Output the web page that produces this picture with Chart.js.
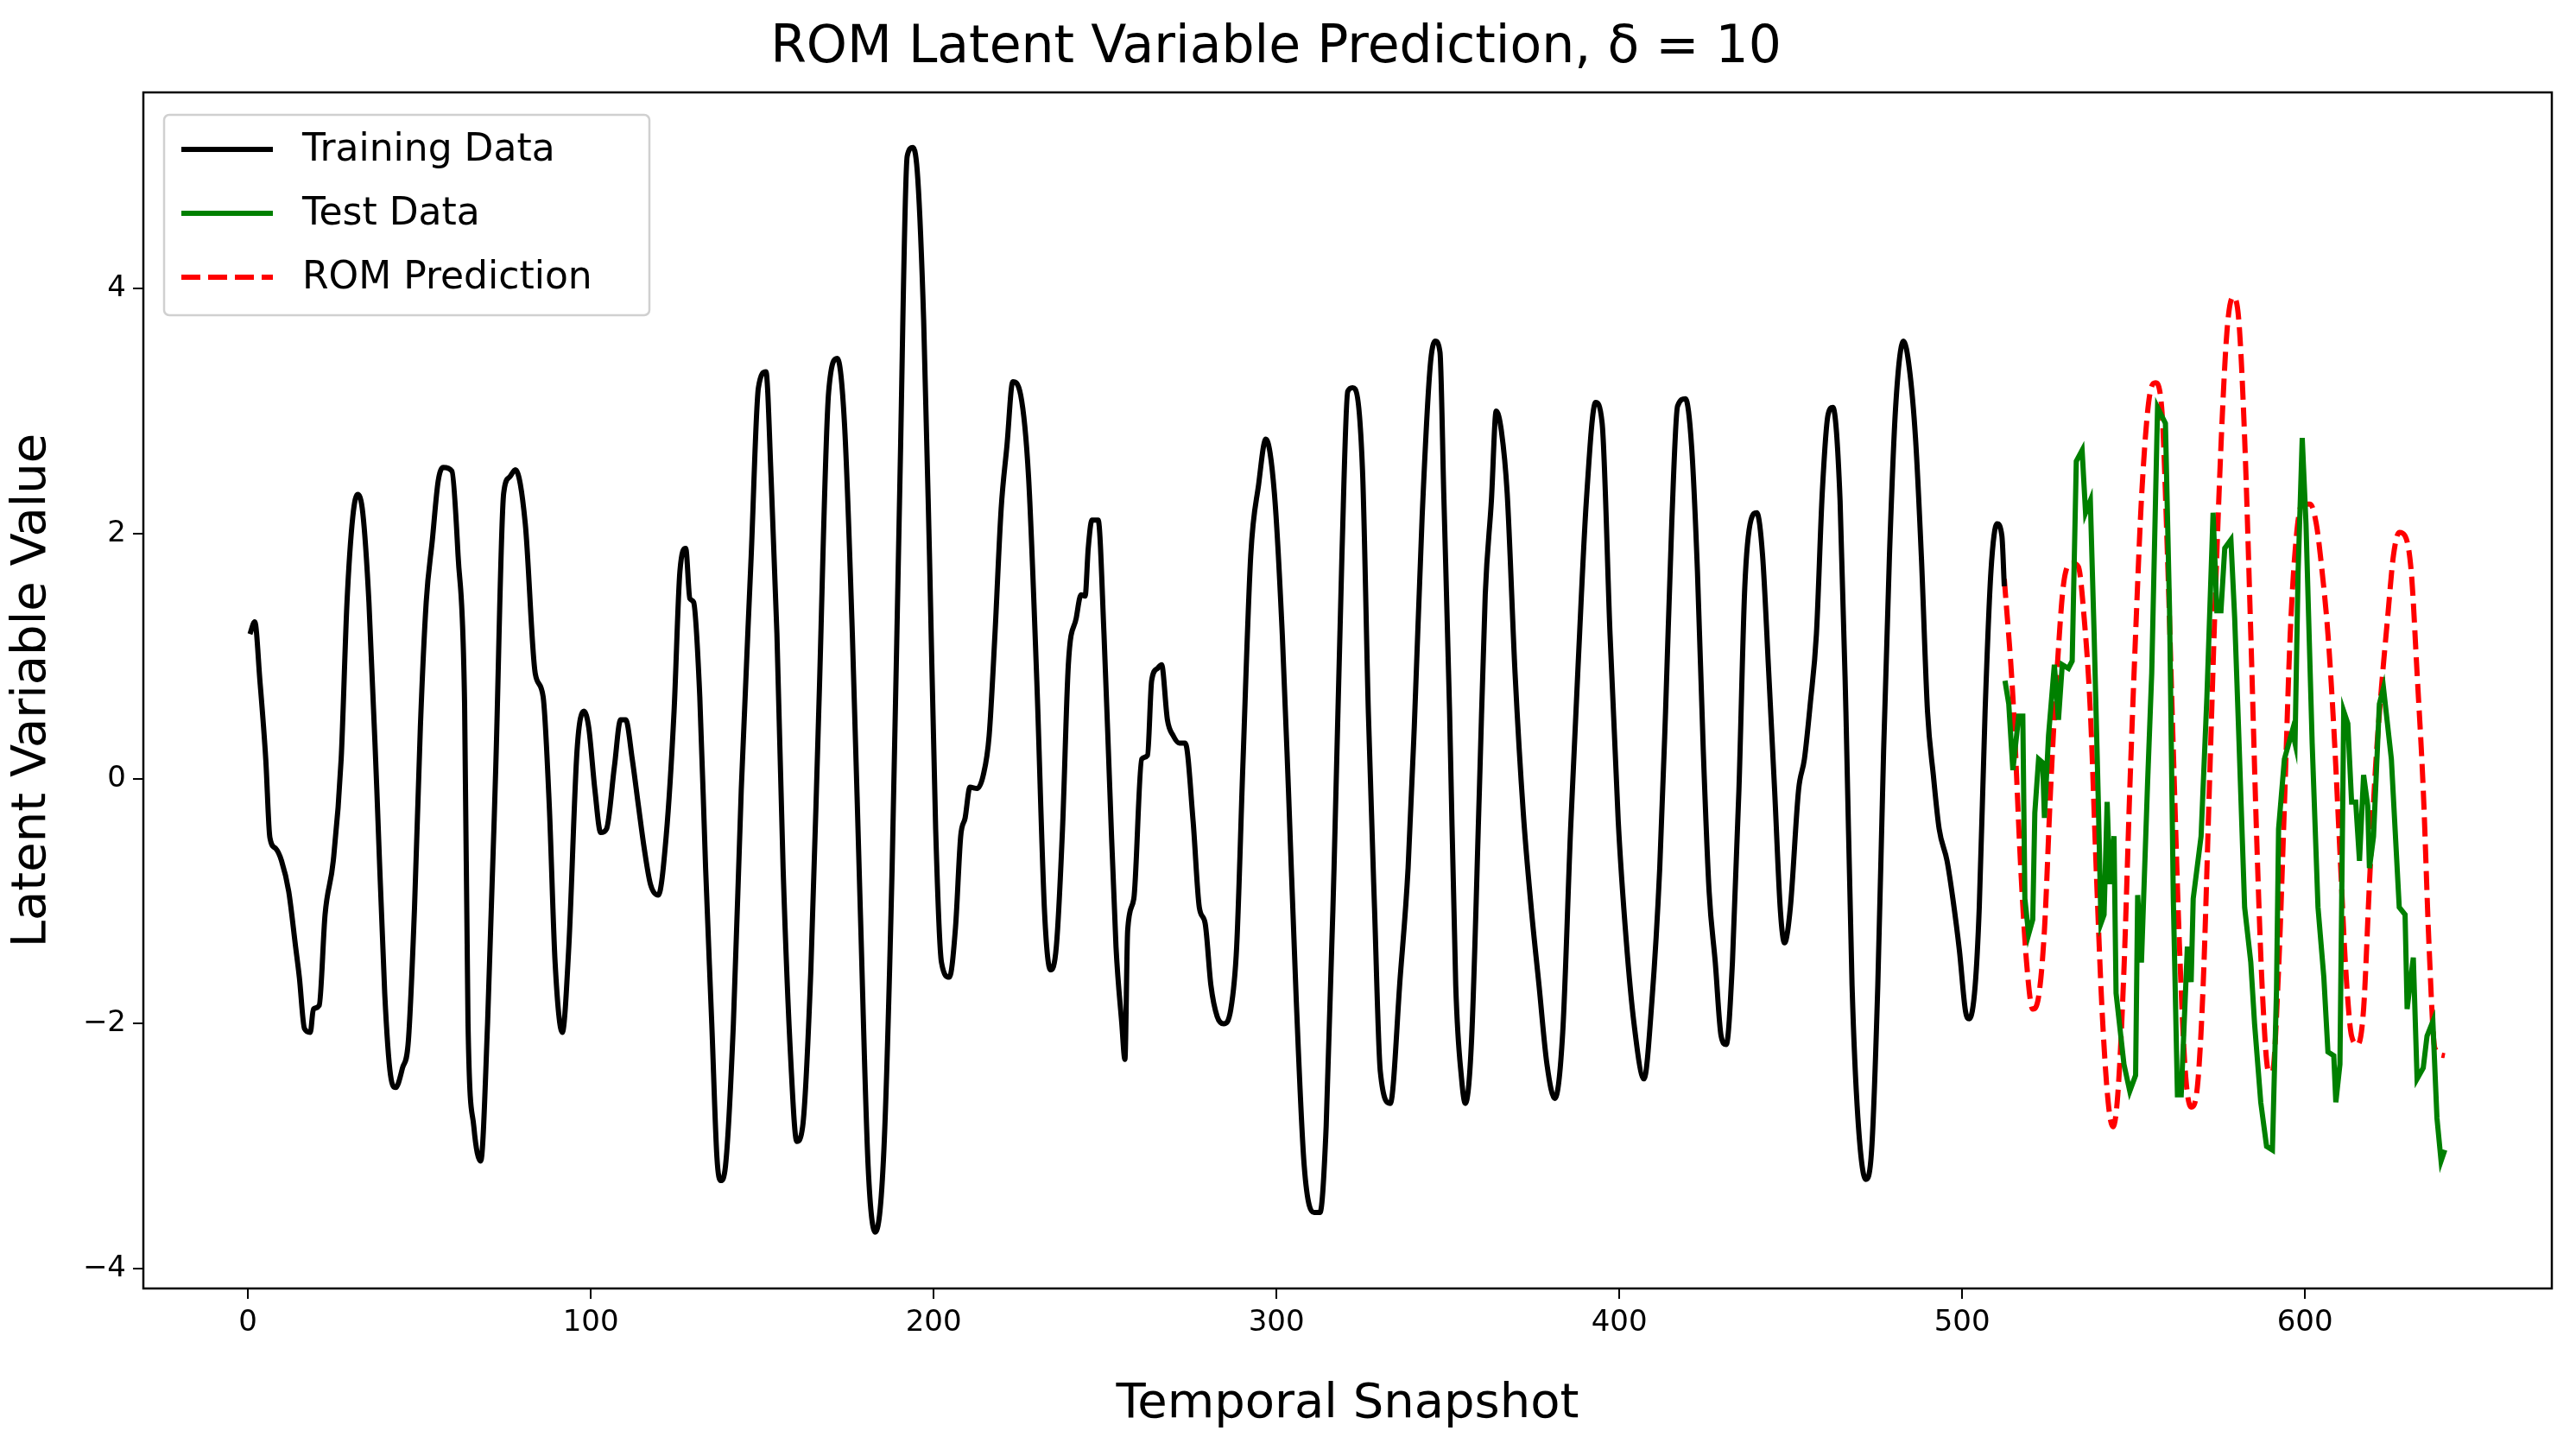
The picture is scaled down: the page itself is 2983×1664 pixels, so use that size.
<!DOCTYPE html>
<html>
<head>
<meta charset="utf-8">
<script src="https://cdn.jsdelivr.net/npm/chart.js@4"></script>
<style>
  html, body { margin: 0; padding: 0; background: #fff; }
</style>
</head>
<body>
<canvas id="romChart" width="2983" height="1664"></canvas>
<script>
// training data (black)
const trainX = [0.6,2,3.5,5.2,6.4,8.1,9.8,11.9,13.9,15,16.5,18.2,19.1,20.8,22.5,24.9,27.2,28.9,30.6,32,33.5,35.3,37.6,39.9,41.6,43.1,45.1,46.8,48.6,50.3,52,53.8,55.5,57,59.5,61.3,63.2,64.2,65.9,67.9,69.9,72.3,74.6,76.3,78,80.9,83.8,86.1,87.9,89.6,91.7,93.6,96,98,99.4,101.2,102.9,104.6,106.9,108.7,110.2,112.1,113.9,115.6,117.4,119.7,122,124.3,126,127.7,128.9,130,131.8,133.5,135.3,136.8,137.9,139.3,141.6,143.9,146.8,148.9,151.1,152.6,154.3,156.1,158.4,160.1,161.8,164.2,166.5,169.4,171.9,174,176.3,178.6,180.9,183,185.5,187.9,190.2,192.3,194,195.4,197.1,198.8,200.6,202.3,204.6,206.4,207.9,209.2,210.6,212.7,214.5,216.2,217.9,219.7,221.4,223.1,225.4,227.7,230.1,232.4,234.1,235.8,237.6,239.3,241.6,243,244.2,245.1,246.2,248,249.7,251.4,253.2,254.9,255.8,256.6,258.4,260.7,262.4,263.6,265.3,266.5,268.2,269.9,271.7,273.4,275.7,277.5,279.2,280.9,282.7,284.6,286.7,288.4,290.2,292.5,294.8,296.9,299.4,301.7,303.5,305.8,308.1,311,312.7,314.5,316.8,319.1,320.8,322.2,325.1,326.8,328.6,330.3,333.2,336.1,338.4,340.2,342.5,344.8,346.3,347.7,348.8,350.5,352.3,354,355.1,356.9,359.2,360.9,362.7,364.1,365.6,367.3,369.6,372,374.3,376.6,378.9,381.2,383.5,385.8,388.1,390.4,393.1,395,397.3,399.7,402,404.3,407.2,409.5,411.8,413.5,415.3,417,419.3,421.1,422.8,424.5,426.2,428,429.7,431.2,433,434.9,436.6,438.4,440.1,441.8,443.6,445.3,447,448.2,449.9,452.3,454,455.7,457.5,459.2,460.9,462.3,464.4,466.1,467.9,469.6,471.9,473.6,475.4,477.1,478.8,480.6,482.9,484.6,486.4,488.1,489.9,491.6,493.3,495.6,497.3,499.2,501,502.1,503.8,505,506.7,508.4,510.2,511.6,512.3];
const trainY = [1.18,1.28,0.8,0.16,-0.48,-0.57,-0.67,-0.92,-1.37,-1.62,-2.04,-2.07,-1.88,-1.85,-1.11,-0.67,0.16,1.44,2.14,2.32,2.17,1.44,-0.09,-1.75,-2.42,-2.52,-2.36,-2.14,-1.05,0.42,1.44,1.95,2.43,2.54,2.51,1.82,0.61,-2.0,-2.84,-3.12,-2.0,0.1,2.33,2.46,2.52,2.08,0.86,0.67,-0.22,-1.5,-2.07,-1.37,0.23,0.55,0.42,-0.09,-0.44,-0.41,0.1,0.48,0.48,0.16,-0.22,-0.57,-0.86,-0.95,-0.47,0.55,1.69,1.88,1.47,1.44,0.67,-0.73,-2.0,-3.09,-3.28,-3.16,-2.0,-0.09,1.82,3.19,3.32,2.46,1.18,-0.73,-2.33,-2.96,-2.84,-1.56,0.55,3.16,3.43,2.9,1.18,-1.05,-3.16,-3.7,-3.03,-0.73,2.46,5.08,5.15,4.89,3.74,1.82,-0.41,-1.5,-1.62,-1.21,-0.47,-0.32,-0.07,-0.08,0.03,0.35,1.18,2.2,2.72,3.24,3.13,2.46,0.8,-1.11,-1.56,-1.37,-0.41,0.93,1.31,1.5,1.49,1.88,2.11,2.11,1.18,-0.09,-1.37,-2.0,-2.29,-1.24,-0.98,0.16,0.19,0.8,0.9,0.93,0.48,0.35,0.29,0.29,-0.35,-1.05,-1.18,-1.69,-1.94,-2.0,-1.88,-1.37,0.1,1.82,2.4,2.77,2.33,1.18,-0.09,-1.82,-3.16,-3.54,-3.54,-2.84,-0.73,1.82,3.16,3.19,2.52,0.55,-1.05,-2.39,-2.65,-1.62,-0.73,0.42,2.14,3.35,3.57,3.48,2.33,0.55,-1.69,-2.45,-2.65,-2.14,-0.09,1.5,2.27,3.0,2.84,2.33,0.86,-0.28,-1.05,-1.69,-2.33,-2.61,-2.07,-0.41,0.99,2.27,3.07,2.9,1.18,-0.35,-1.31,-2.0,-2.45,-1.82,-0.73,0.55,2.08,3.04,3.1,2.71,1.69,0.23,-0.92,-1.5,-2.1,-2.17,-1.5,-0.09,1.56,2.11,2.17,1.82,0.86,-0.09,-1.08,-1.34,-1.05,-0.09,0.16,0.61,1.18,2.33,2.97,3.03,2.27,0.55,-1.69,-2.77,-3.27,-3.03,-1.69,0.23,1.82,3.03,3.57,3.35,2.78,1.82,0.55,0.03,-0.41,-0.67,-0.98,-1.4,-1.9,-1.96,-1.69,-1.05,0.55,1.69,2.08,1.98,1.57];

// test data (green)
const testX = [512.5,513.6,514.8,516.5,517.7,518.3,519.4,520.6,521.2,522.3,523.5,524,525.2,526.9,528.1,529.2,531,532.1,533.3,535,536,537.4,538.5,539.7,540.5,541.4,542.3,543.1,544.3,544.9,547.2,548.9,550.6,551.2,552.3,554.1,555.3,557,559.3,560.5,561.6,562.8,563.9,565.7,566.8,567.4,569.7,571.4,573.2,574.3,575.5,576.6,578.4,579.5,580.7,582.4,584.2,585.3,587.1,588.8,590.5,591.7,592.3,594,596.3,597.1,598,599.2,600.3,602.1,603.8,605.5,606.7,608.4,609,610.2,611.3,612.5,613.6,614.8,615.9,617.1,618.3,618.8,620,621.7,622.9,625.2,627.5,629.2,629.8,631.6,632.7,634.5,635.6,637.3,638.5,639.7,640.8];
const testY = [0.8,0.61,0.07,0.51,0.51,-0.98,-1.27,-1.15,-0.28,0.16,0.13,-0.32,0.35,0.93,0.48,0.93,0.9,0.96,2.59,2.68,2.17,2.27,1.18,-0.16,-1.18,-1.11,-0.19,-0.86,-0.47,-1.75,-2.33,-2.55,-2.42,-0.95,-1.5,-0.03,0.86,3.03,2.9,1.37,-0.98,-2.58,-2.58,-1.37,-1.66,-0.98,-0.47,0.67,2.17,1.37,1.37,1.88,1.95,1.31,0.35,-1.05,-1.5,-2.0,-2.64,-3.0,-3.03,-1.72,-0.41,0.16,0.39,0.29,1.69,2.78,2.08,0.29,-1.05,-1.62,-2.23,-2.26,-2.64,-2.33,0.55,0.45,-0.19,-0.19,-0.67,0.03,-0.22,-0.73,-0.47,0.61,0.74,0.16,-1.05,-1.11,-1.88,-1.46,-2.45,-2.36,-2.1,-1.98,-2.77,-3.12,-3.03];

// ROM prediction (red dashed)
const romX = [512.3,514.8,517.1,518.8,520.6,522.3,524,525.8,527.5,529.8,532.1,533.9,535.6,537.4,539.1,540.8,542.6,544,545.4,547.2,548.9,550.6,552.4,554.7,556.4,558.2,559.9,561.6,563.4,565.1,566.8,568.6,570.3,572.1,573.8,575.6,577.3,579,580.7,582.4,584.2,585.9,587.6,589.4,590.5,592.3,594,595.7,597.5,599.2,601.5,603.3,605,606.7,608.4,610.2,611.9,613.6,615.4,617.1,618.8,620.6,622.3,624.1,625.8,627.5,629.2,631,632.7,634.5,636.2,637.9,640.8];
const romY = [1.63,0.67,-0.73,-1.5,-1.88,-1.78,-1.24,-0.09,0.8,1.63,1.76,1.73,1.31,0.55,-0.73,-1.88,-2.64,-2.84,-2.58,-1.56,-0.09,1.18,2.33,3.13,3.23,3.03,1.82,0.23,-1.37,-2.39,-2.68,-2.52,-1.69,-0.09,1.44,2.78,3.67,3.93,3.74,2.78,1.18,-0.47,-1.75,-2.39,-2.39,-1.56,-0.22,1.18,1.98,2.24,2.24,2.08,1.69,1.18,0.42,-0.6,-1.56,-2.1,-2.17,-1.88,-0.86,0.1,0.74,1.31,1.82,2.01,1.98,1.69,0.86,-0.09,-1.37,-2.2,-2.26];

const xTicks = [0, 100, 200, 300, 400, 500, 600];
const yTicks = [-4, -2, 0, 2, 4];
const legendLabels = ['Training Data', 'Test Data', 'ROM Prediction'];

const toPoints = (xs, ys) => xs.map((x, i) => ({ x: x, y: ys[i] }));
const FONT = 'DejaVu Sans';

// frame + legend box drawn inside the axes, matplotlib style
const framePlugin = {
    id: 'frame',
    afterDraw(chart) {
        const ctx = chart.ctx;
        const a = chart.chartArea;
        ctx.save();
        ctx.strokeStyle = '#000';
        ctx.lineWidth = 2.5;
        ctx.strokeRect(a.left, a.top, a.right - a.left, a.bottom - a.top);

        // legend
        const lx = a.left + 24, ly = a.top + 26, lw = 562, lh = 232;
        ctx.fillStyle = 'rgba(255,255,255,0.8)';
        ctx.strokeStyle = '#d0d0d0';
        ctx.lineWidth = 2.5;
        ctx.beginPath();
        ctx.roundRect(lx, ly, lw, lh, 6);
        ctx.fill();
        ctx.stroke();
        const styles = [
            { color: '#000', dash: [] },
            { color: 'green', dash: [] },
            { color: 'red', dash: [22, 9] }
        ];
        ctx.font = '44px "' + FONT + '"';
        ctx.textBaseline = 'middle';
        legendLabels.forEach((lab, i) => {
            const yy = ly + 40 + i * 74;
            ctx.strokeStyle = styles[i].color;
            ctx.lineWidth = 6;
            ctx.setLineDash(styles[i].dash);
            ctx.beginPath();
            ctx.moveTo(lx + 20, yy);
            ctx.lineTo(lx + 126, yy);
            ctx.stroke();
            ctx.setLineDash([]);
            ctx.fillStyle = '#000';
            ctx.fillText(lab, lx + 160, yy + 2);
        });
        ctx.restore();
    }
};

const ctx = document.getElementById('romChart').getContext('2d');
const romChart = new Chart(ctx, {
    type: 'line',
    data: {
        datasets: [{
            label: legendLabels[0],
            data: toPoints(trainX, trainY),
            borderColor: '#000',
            borderWidth: 6,
            pointRadius: 0,
            cubicInterpolationMode: 'monotone'
        }, {
            label: legendLabels[1],
            data: toPoints(testX, testY),
            borderColor: 'green',
            borderWidth: 6,
            pointRadius: 0,
            tension: 0
        }, {
            label: legendLabels[2],
            data: toPoints(romX, romY),
            borderColor: 'red',
            borderWidth: 6,
            borderDash: [22, 9],
            pointRadius: 0,
            cubicInterpolationMode: 'monotone'
        }]
    },
    options: {
        responsive: false,
        devicePixelRatio: 1,
        animation: false,
        layout: { padding: { left: 0, right: 28, top: 0, bottom: 0 } },
        plugins: {
            legend: { display: false },
            tooltip: { enabled: false },
            title: {
                display: true,
                text: 'ROM Latent Variable Prediction, δ = 10',
                color: '#000',
                font: { family: FONT, size: 60, weight: 'normal' },
                padding: { top: 20, bottom: 15 }
            }
        },
        scales: {
            x: {
                type: 'linear',
                min: -30.5,
                max: 672,
                afterBuildTicks: (s) => { s.ticks = xTicks.map(v => ({ value: v })); },
                afterFit: (s) => { s.height = 172; },
                grid: { drawOnChartArea: false, drawTicks: true, tickLength: 12, color: '#000', lineWidth: 2 },
                border: { display: false },
                ticks: {
                    color: '#000',
                    font: { family: FONT, size: 34 },
                    padding: 8,
                    maxRotation: 0
                },
                title: {
                    display: true,
                    text: 'Temporal Snapshot',
                    color: '#000',
                    font: { family: FONT, size: 56 },
                    padding: { top: 0 }
                }
            },
            y: {
                min: -4.16,
                max: 5.6,
                afterBuildTicks: (s) => { s.ticks = yTicks.map(v => ({ value: v })); },
                afterFit: (s) => { s.width = 166; },
                grid: { drawOnChartArea: false, drawTicks: true, tickLength: 12, color: '#000', lineWidth: 2 },
                border: { display: false },
                ticks: {
                    color: '#000',
                    font: { family: FONT, size: 34 },
                    padding: 8,
                    callback: (v) => String(v).replace('-', '\u2212')
                },
                title: {
                    display: true,
                    text: 'Latent Variable Value',
                    color: '#000',
                    font: { family: FONT, size: 56 },
                    padding: { bottom: 6 }
                }
            }
        }
    },
    plugins: [framePlugin]
});
</script>
</body>
</html>
